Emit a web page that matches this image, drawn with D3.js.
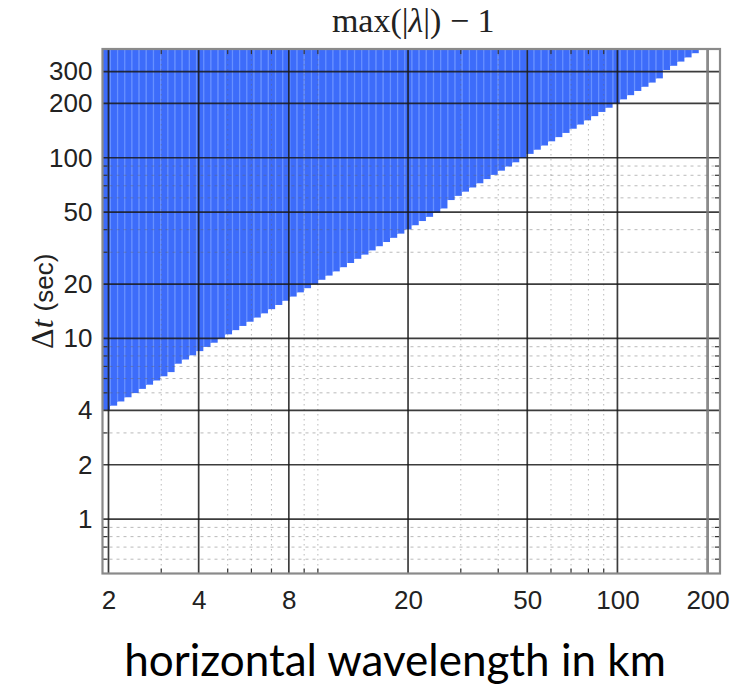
<!DOCTYPE html>
<html>
<head>
<meta charset="utf-8">
<script src="https://cdn.jsdelivr.net/npm/d3@7.9.0/dist/d3.min.js"></script>
<style>
  body { margin: 0; background: #fff; }
  svg { display: block; }
</style>
</head>
<body>
<svg id="chart" width="731" height="689"></svg>
<script>
// axis ticks
const xMajor = [2, 4, 8, 20, 50, 100, 200];
const yMajor = [1, 2, 4, 10, 20, 50, 100, 200, 300];
const xMinor = [3, 5, 6, 7, 9, 10, 30, 40, 60, 70, 80, 90];
const yMinor = [0.6, 0.7, 0.8, 0.9, 3, 5, 6, 7, 8, 9, 30, 40, 60, 70, 80, 90];

// stability edge: wavelength (km) -> largest stable dt (sec)
const edgeLambda = [1.9, 4, 8, 20, 50, 100, 190];
const edgeDt = [3.9, 8.3, 17, 41, 102, 200, 400];

// model grid behind the colour map
const lambdaRange = [1.91, 220];
const dtRange = [0.5, 400];
const nCols = 86;
const nRows = 125;

const svg = d3.select("#chart");
const W = 731, H = 689;
const plot = { left: 102.5, right: 720, top: 49, bottom: 573.5 };

const x = d3.scaleLog().domain(lambdaRange).range([plot.left, plot.right]);
const y = d3.scaleLog().domain(dtRange).range([plot.bottom, plot.top]);

svg.append("rect").attr("width", W).attr("height", H).attr("fill", "#fff");

// --- unstable cells (max|lambda| - 1 > 0) ---
const edgeLog = d3.scaleLinear()
  .domain(edgeLambda.map(Math.log10))
  .range(edgeDt.map(Math.log10));

const l0 = Math.log10(lambdaRange[0]);
const dl = (Math.log10(lambdaRange[1]) - l0) / nCols;
const r0 = Math.log10(dtRange[0]);
const dr = (Math.log10(dtRange[1]) - r0) / nRows;

const cols = d3.range(nCols).map(i => {
  const lo = l0 + i * dl, hi = lo + dl;
  const crit = edgeLog(lo + dl / 2);
  const j0 = Math.max(0, Math.ceil((crit - r0) / dr - 0.5));
  return { lo: Math.pow(10, lo), hi: Math.pow(10, hi), bottom: Math.pow(10, r0 + j0 * dr) };
}).filter(c => c.bottom < dtRange[1]);

const cells = svg.append("g");
cells.selectAll("rect").data(cols).join("rect")
  .attr("x", d => x(d.lo))
  .attr("width", d => x(d.hi) - x(d.lo) + 0.3)
  .attr("y", y(dtRange[1]))
  .attr("height", d => y(d.bottom) - y(dtRange[1]))
  .attr("fill", "#3d6cfa");
cells.selectAll("line").data(cols.slice(1)).join("line")
  .attr("x1", d => x(d.lo) + 0.7).attr("x2", d => x(d.lo) + 0.7)
  .attr("y1", y(dtRange[1])).attr("y2", d => y(d.bottom))
  .attr("stroke", "#6790ff").attr("stroke-width", 1.3);

// --- grid ---
const grid = svg.append("g");
grid.selectAll(".hmin").data(yMinor).join("line")
  .attr("x1", plot.left).attr("x2", plot.right)
  .attr("y1", d => y(d)).attr("y2", d => y(d))
  .attr("stroke", "#666").attr("stroke-opacity", 0.45)
  .attr("stroke-width", 1).attr("stroke-dasharray", "3,4");
grid.selectAll(".vmin").data(xMinor).join("line")
  .attr("y1", plot.top).attr("y2", plot.bottom)
  .attr("x1", d => x(d)).attr("x2", d => x(d))
  .attr("stroke", "#666").attr("stroke-opacity", 0.45)
  .attr("stroke-width", 1).attr("stroke-dasharray", "1.5,3.5");
grid.selectAll(".hmaj").data(yMajor).join("line")
  .attr("x1", plot.left).attr("x2", plot.right)
  .attr("y1", d => y(d)).attr("y2", d => y(d))
  .attr("stroke", "#1a1a1a").attr("stroke-opacity", 0.85).attr("stroke-width", 1.7);
grid.selectAll(".vmaj").data(xMajor).join("line")
  .attr("y1", plot.top).attr("y2", plot.bottom)
  .attr("x1", d => x(d)).attr("x2", d => x(d))
  .attr("stroke", d => d === 200 ? "#777" : "#1a1a1a")
  .attr("stroke-opacity", 0.85)
  .attr("stroke-width", d => d === 200 ? 2.8 : 1.7);

// small inward ticks on the frame
const ticks = svg.append("g").attr("stroke", "#333").attr("stroke-width", 1.2);
yMinor.forEach(v => {
  ticks.append("line").attr("x1", plot.left).attr("x2", plot.left + 5).attr("y1", y(v)).attr("y2", y(v));
  ticks.append("line").attr("x1", plot.right).attr("x2", plot.right - 5).attr("y1", y(v)).attr("y2", y(v));
});
xMinor.forEach(v => {
  ticks.append("line").attr("y1", plot.bottom).attr("y2", plot.bottom - 5).attr("x1", x(v)).attr("x2", x(v));
  ticks.append("line").attr("y1", plot.top).attr("y2", plot.top + 5).attr("x1", x(v)).attr("x2", x(v));
});

// frame
svg.append("rect")
  .attr("x", plot.left).attr("y", plot.top)
  .attr("width", plot.right - plot.left).attr("height", plot.bottom - plot.top)
  .attr("fill", "none").attr("stroke", "#8a8a8a").attr("stroke-width", 2.2);

// --- axes (labels only) ---
const fmt = d => String(d);
const yAxis = svg.append("g")
  .attr("transform", `translate(${plot.left - 10},0)`)
  .call(d3.axisLeft(y).tickValues(yMajor).tickFormat(fmt).tickSize(0).tickPadding(0));
const xAxis = svg.append("g")
  .attr("transform", `translate(0,${plot.bottom + 16})`)
  .call(d3.axisBottom(x).tickValues(xMajor).tickFormat(fmt).tickSize(0).tickPadding(0));
[yAxis, xAxis].forEach(a => {
  a.select(".domain").remove();
  a.selectAll("text")
    .attr("font-family", "'Liberation Sans', Arial, sans-serif")
    .attr("font-size", 26).attr("fill", "#222");
});
xAxis.selectAll("text").attr("dy", "0.75em");

// title
const title = svg.append("text")
  .attr("x", (plot.left + plot.right) / 2 + 2).attr("y", 32)
  .attr("text-anchor", "middle")
  .attr("font-family", "'Liberation Serif', 'DejaVu Serif', serif")
  .attr("font-size", 34).attr("fill", "#222");
title.append("tspan").text("max(|");
title.append("tspan").attr("font-style", "italic").text("λ");
title.append("tspan").text("|) − 1");

// y label
const ylab = svg.append("text")
  .attr("transform", `translate(53,${(plot.top + plot.bottom) / 2 - 10}) rotate(-90)`)
  .attr("text-anchor", "middle")
  .attr("fill", "#222");
ylab.append("tspan").attr("font-family", "'Liberation Serif', serif").attr("font-size", 32).text("Δ");
ylab.append("tspan").attr("font-family", "'Liberation Serif', serif").attr("font-size", 32).attr("font-style", "italic").text("t ");
ylab.append("tspan").attr("font-family", "'Liberation Sans', sans-serif").attr("font-size", 26).text("(sec)");

// x label
svg.append("text")
  .attr("x", 395).attr("y", 676)
  .attr("text-anchor", "middle")
  .attr("font-family", "Lato, 'Open Sans', sans-serif")
  .attr("font-size", 44).attr("fill", "#000")
  .text("horizontal wavelength in km");
</script>
</body>
</html>
